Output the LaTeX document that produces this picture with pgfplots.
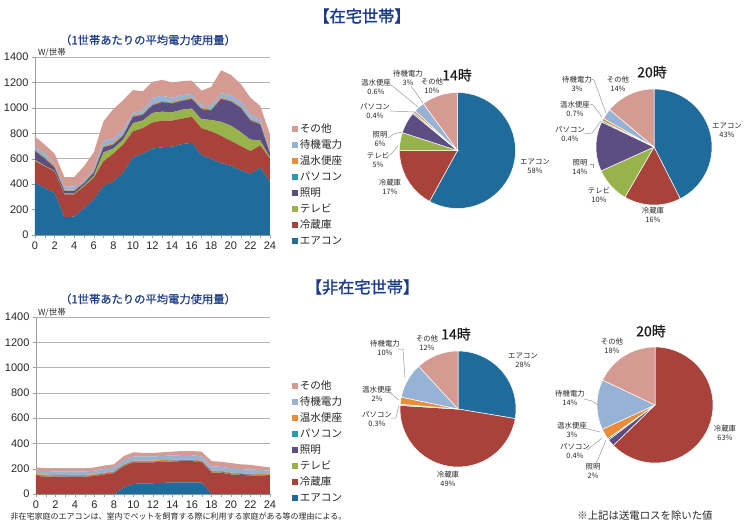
\documentclass[border=0pt]{standalone}
\usepackage{pgfplots}
\pgfplotsset{compat=1.18}
\usepackage{pgfplotstable}
\usepackage{fontspec}
\setmainfont{Liberation Sans}
\newfontfamily\jp{Noto Sans CJK JP}
\newfontfamily\jpb[FakeBold=1.6]{Noto Sans CJK JP}
\newfontfamily\jpm[FakeBold=0.8]{Noto Sans CJK JP}
\newfontfamily\jpt[FakeBold=0.3]{Noto Sans CJK JP}

\definecolor{cA}{HTML}{1F6B9C}
\definecolor{cF}{HTML}{A8423B}
\definecolor{cT}{HTML}{98B24C}
\definecolor{cL}{HTML}{5D4D82}
\definecolor{cP}{HTML}{2B9BB2}
\definecolor{cW}{HTML}{EB8C37}
\definecolor{cS}{HTML}{96B2D4}
\definecolor{cO}{HTML}{D59A92}
\definecolor{headc}{HTML}{1B3C8C}
\definecolor{subc}{HTML}{1E3C8A}

% 在宅世帯 (W/世帯), stacked components
\pgfplotstableread{
h A F T L P W S O
0 410 170 10 70 4 8 28 75
1 370 170 5 55 4 8 28 70
2 330 170 5 25 4 8 18 80
3 140 180 5 20 4 8 23 75
4 145 175 5 20 4 8 23 75
5 210 170 10 15 4 8 13 110
6 280 170 15 25 4 8 18 130
7 385 195 70 40 4 8 38 155
8 420 220 40 30 4 8 38 230
9 490 220 40 30 4 8 38 230
10 610 205 65 50 4 8 18 180
11 640 200 60 45 4 8 23 150
12 680 205 75 60 4 8 48 125
13 690 210 70 75 4 8 38 125
14 695 205 65 70 4 8 33 120
15 715 200 70 70 4 8 33 110
16 725 205 65 75 4 8 28 105
17 630 210 70 80 4 8 23 110
18 600 215 90 75 4 8 28 145
19 565 215 110 180 4 8 33 180
20 545 195 120 190 4 8 38 160
21 510 190 110 190 4 8 38 140
22 480 180 90 150 4 8 38 130
23 530 175 40 125 4 8 28 105
24 415 185 10 30 4 8 8 130
}\topdata

% 非在宅世帯 (W/世帯)
\pgfplotstableread{
h A F T L P W S O
0 0 142 2 5 1 7 28 25
1 0 138 2 5 1 7 28 24
2 0 137 2 4 1 7 28 22
3 0 137 2 4 1 7 28 22
4 0 135 2 4 1 7 29 22
5 0 137 2 4 1 7 28 21
6 0 142 2 4 1 7 28 26
7 0 155 2 4 1 7 30 26
8 0 165 2 4 1 7 30 26
9 50 170 2 4 1 7 32 34
10 80 170 2 4 1 7 33 33
11 85 165 2 4 1 7 33 28
12 85 165 2 4 1 7 33 28
13 88 167 2 4 1 7 33 28
14 92 165 2 4 1 7 33 31
15 92 168 2 4 1 7 33 33
16 92 168 2 4 1 7 33 33
17 90 160 2 4 1 7 33 38
18 0 170 2 5 1 7 32 43
19 0 168 2 5 1 7 32 40
20 0 155 2 5 1 7 33 42
21 0 150 2 5 1 7 32 38
22 0 147 2 5 1 7 32 36
23 0 143 2 5 1 7 32 30
24 0 142 2 5 1 7 28 25
}\botdata

% pie angles (clockwise from 12 o'clock)
\newcommand\mkpie[2]{%
  \gdef\pietot{0}%
  \foreach \v in {#2}{\pgfmathsetmacro\tmp{\pietot+\v}\xdef\pietot{\tmp}}%
  \gdef\piecum{0}%
  \foreach \v [count=\i] in {#2}{%
    \pgfmathsetmacro\tmpa{90-360*(\piecum/\pietot)}%
    \pgfmathsetmacro\tmp{\piecum+\v}\xdef\piecum{\tmp}%
    \pgfmathsetmacro\tmpb{90-360*(\piecum/\pietot)}%
    \expandafter\xdef\csname pie#1a\i\endcsname{\tmpa}%
    \expandafter\xdef\csname pie#1b\i\endcsname{\tmpb}%
  }}
\newcommand\slice[3]{%
  \fill[#3, draw=white, line width=0.5pt] (axis cs:0,0) -- ++(\csname pie#1a#2\endcsname:58pt)
    arc[start angle=\csname pie#1a#2\endcsname, end angle=\csname pie#1b#2\endcsname, radius=58pt] -- cycle;}
\newcommand\allslices[1]{%
  \slice{#1}{1}{cA}\slice{#1}{2}{cF}\slice{#1}{3}{cT}\slice{#1}{4}{cL}%
  \slice{#1}{5}{cP}\slice{#1}{6}{cW}\slice{#1}{7}{cS}\slice{#1}{8}{cO}}

\mkpie{ta}{58,17,5,6,0.4,0.6,3,10}
\mkpie{tb}{43,16,10,14,0.4,0.7,3,14}
\mkpie{ba}{28,49,0,0,0.3,2,10,12}
\mkpie{bb}{0,63,0,2,0.4,3,14,18}

\pgfplotsset{
  areastyle/.style={
    scale only axis, width=235pt, xmin=0, xmax=24, ymin=0, ymax=1400,
    xtick={0,2,...,24}, minor xtick={1,3,...,23}, ytick={0,200,...,1400},
    axis x line*=bottom, axis y line*=left,
    axis line style={draw=gray!75},
    ymajorgrids, grid style={gray!60, line width=0.7pt},
    major tick style={gray!75}, minor tick style={gray!75},
    major tick length=3pt, minor tick length=3pt, tick align=outside,
    ticklabel style={font=\fontsize{11}{12}\selectfont, text=black!85},
    /pgf/number format/assume math mode=true,
    /pgf/number format/1000 sep={},
    stack plots=y,
    legend cell align=left, reverse legend,
    legend image code/.code={\fill[##1] (0pt,-2.8pt) rectangle (5.6pt,2.8pt);},
    legend style={draw=none, fill=none, anchor=north west,
      font=\jp\fontsize{10.6}{11}\selectfont, text=black!85,
      row sep=6pt, column sep=2pt,
      nodes={inner sep=0pt, text height=8pt, text depth=2pt}},
  },
  piestyle/.style={hide axis, scale only axis, width=116pt, height=116pt,
    xmin=-1, xmax=1, ymin=-1, ymax=1, anchor=center},
}
\tikzset{
  pielab/.style={align=center, font=\jp\fontsize{7.4}{9}\selectfont, text=black!85},
  lead/.style={draw=gray!80, line width=0.5pt},
  pietitle/.style={font=\jpt\fontsize{14}{16}\selectfont, text=black!90},
}

\begin{document}
\begin{tikzpicture}[x=1pt,y=1pt]
\useasboundingbox (0,0) rectangle (750,-527);

% ---------- 在宅世帯 ----------
\node[font=\jpb\fontsize{16.2}{18}\selectfont, text=headc] at (362,-16) {【在宅世帯】};
\node[font=\jpm\fontsize{11.3}{13}\selectfont, text=subc] at (148,-40) {（1世帯あたりの平均電力使用量）};
\node[font=\jp\fontsize{8.5}{10}\selectfont, text=black!85] at (52,-53) {W/世帯};

\begin{axis}[areastyle, height=178pt, at={(35pt,-235pt)}, anchor=south west,
  legend style={at={(1.081,0.635)}}]
\addplot[fill=cA, draw=none] table[x=h,y=A]{\topdata} \closedcycle;
\addplot[fill=cF, draw=none] table[x=h,y=F]{\topdata} \closedcycle;
\addplot[fill=cT, draw=none] table[x=h,y=T]{\topdata} \closedcycle;
\addplot[fill=cL, draw=none] table[x=h,y=L]{\topdata} \closedcycle;
\addplot[fill=cP, draw=none] table[x=h,y=P]{\topdata} \closedcycle;
\addplot[fill=cW, draw=none] table[x=h,y=W]{\topdata} \closedcycle;
\addplot[fill=cS, draw=none] table[x=h,y=S]{\topdata} \closedcycle;
\addplot[fill=cO, draw=none] table[x=h,y=O]{\topdata} \closedcycle;
\legend{エアコン,冷蔵庫,テレビ,照明,パソコン,温水便座,待機電力,その他}
\end{axis}

% pie 14時 (在宅)
\begin{axis}[piestyle, at={(457.5pt,-150.5pt)}]
\allslices{ta}
\end{axis}
\node[pietitle] at (457,-75) {14時};
\node[pielab] at (408,-77.5) {待機電力\\3\%};
\node[pielab] at (432,-86) {その他\\10\%};
\node[pielab] at (376,-87) {温水便座\\0.6\%};
\node[pielab] at (375,-111) {パソコン\\0.4\%};
\node[pielab] at (380,-139.5) {照明\\6\%};
\node[pielab] at (378,-159.5) {テレビ\\5\%};
\node[pielab] at (390,-187) {冷蔵庫\\17\%};
\node[pielab] at (535,-166.5) {エアコン\\58\%};
\draw[lead] (411,-86) -- (423,-103);
\draw[lead] (390,-84) -- (418,-107);
\draw[lead] (390,-111) -- (414,-112);
\draw[lead] (388,-138) -- (394,-134) -- (402,-132);
\draw[lead] (386,-158) -- (392,-153) -- (398,-146);

% pie 20時 (在宅)
\begin{axis}[piestyle, at={(654pt,-147pt)}]
\allslices{tb}
\end{axis}
\node[pietitle] at (652,-72) {20時};
\node[pielab] at (577,-84) {待機電力\\3\%};
\node[pielab] at (618,-84) {その他\\14\%};
\node[pielab] at (575,-108.5) {温水便座\\0.7\%};
\node[pielab] at (570,-134) {パソコン\\0.4\%};
\node[pielab] at (580,-167.5) {照明\\14\%};
\node[pielab] at (599,-195) {テレビ\\10\%};
\node[pielab] at (653,-215) {冷蔵庫\\16\%};
\node[pielab] at (727,-130) {エアコン\\43\%};
\draw[lead] (591,-79) -- (594,-80) -- (606,-113);
\draw[lead] (590,-104) -- (593,-105) -- (602,-117);
\draw[lead] (584,-134) -- (592,-133) -- (601,-121);
\draw[lead] (590,-164) -- (593,-164) -- (593,-168);

% ---------- 非在宅世帯 ----------
\node[font=\jpb\fontsize{16.2}{18}\selectfont, text=headc] at (362.5,-287) {【非在宅世帯】};
\node[font=\jpm\fontsize{11.3}{13}\selectfont, text=subc] at (148,-299) {（1世帯あたりの平均電力使用量）};
\node[font=\jp\fontsize{8.5}{10}\selectfont, text=black!85] at (52,-313) {W/世帯};

\begin{axis}[areastyle, height=177pt, at={(36pt,-494pt)}, anchor=south west,
  width=234pt, legend style={at={(1.081,0.650)}}]
\addplot[fill=cA, draw=none] table[x=h,y=A]{\botdata} \closedcycle;
\addplot[fill=cF, draw=none] table[x=h,y=F]{\botdata} \closedcycle;
\addplot[fill=cT, draw=none] table[x=h,y=T]{\botdata} \closedcycle;
\addplot[fill=cL, draw=none] table[x=h,y=L]{\botdata} \closedcycle;
\addplot[fill=cP, draw=none] table[x=h,y=P]{\botdata} \closedcycle;
\addplot[fill=cW, draw=none] table[x=h,y=W]{\botdata} \closedcycle;
\addplot[fill=cS, draw=none] table[x=h,y=S]{\botdata} \closedcycle;
\addplot[fill=cO, draw=none] table[x=h,y=O]{\botdata} \closedcycle;
\legend{エアコン,冷蔵庫,テレビ,照明,パソコン,温水便座,待機電力,その他}
\end{axis}

% pie 14時 (非在宅)
\begin{axis}[piestyle, at={(458pt,-409pt)}]
\allslices{ba}
\end{axis}
\node[pietitle] at (456,-334) {14時};
\node[pielab] at (427,-343) {その他\\12\%};
\node[pielab] at (385,-347.5) {待機電力\\10\%};
\node[pielab] at (377,-394) {温水便座\\2\%};
\node[pielab] at (377,-419) {パソコン\\0.3\%};
\node[pielab] at (448,-478.5) {冷蔵庫\\49\%};
\node[pielab] at (523,-360) {エアコン\\28\%};
\draw[lead] (398,-349) -- (403,-349) -- (405,-378);
\draw[lead] (389,-392) -- (399,-400);
\draw[lead] (391,-418) -- (396,-418) -- (399,-405);

% pie 20時 (非在宅)
\begin{axis}[piestyle, at={(655pt,-405pt)}]
\allslices{bb}
\end{axis}
\node[pietitle] at (651,-331) {20時};
\node[pielab] at (612,-346) {その他\\18\%};
\node[pielab] at (570,-398) {待機電力\\14\%};
\node[pielab] at (572,-430) {温水便座\\3\%};
\node[pielab] at (575,-451) {パソコン\\0.4\%};
\node[pielab] at (593,-471.5) {照明\\2\%};
\node[pielab] at (725,-432.5) {冷蔵庫\\63\%};
\draw[lead] (584,-399) -- (592,-401) -- (598,-405);
\draw[lead] (584,-428) -- (600,-432);
\draw[lead] (587,-450) -- (602,-438);
\draw[lead] (596,-464) -- (606,-440);

% notes
\node[anchor=west, font=\jp\fontsize{8}{9}\selectfont, text=black!85] at (7,-516) {非在宅家庭のエアコンは、室内でペットを飼育する際に利用する家庭がある等の理由による。};
\node[font=\jp\fontsize{10.4}{12}\selectfont, text=black!85] at (645,-516) {※上記は送電ロスを除いた値};
\end{tikzpicture}
\end{document}
